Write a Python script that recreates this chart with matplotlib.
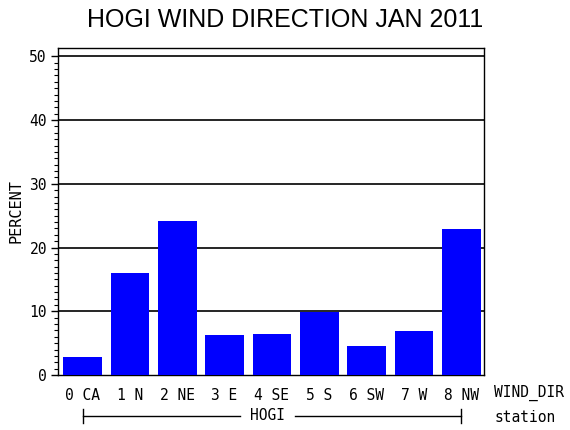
import matplotlib
matplotlib.use("Agg")
import matplotlib.pyplot as plt
import matplotlib.transforms as mtransforms
import numpy as np

categories = ["0 CA", "1 N", "2 NE", "3 E", "4 SE", "5 S", "6 SW", "7 W", "8 NW"]
percent = [2.8, 16.0, 24.2, 6.3, 6.5, 9.9, 4.5, 6.9, 22.9]
yticks = [0, 10, 20, 30, 40, 50]
station = "HOGI"

mono = "DejaVu Sans Mono"

fig = plt.figure(figsize=(5.7, 4.3), dpi=100)
ax = fig.add_axes([58/570, 1-375/430, 426/570, 327/430])

x = np.arange(len(categories))
ax.bar(x, percent, width=0.82, color="#0000ff", zorder=3)

ax.set_xlim(-0.52, 8.48)
ax.set_ylim(0, 51.3)
ax.set_yticks(yticks)
ax.set_yticks(np.arange(0, 51, 1), minor=True)
ax.set_yticklabels([str(t) for t in yticks], family=mono, fontsize=10.5)
for t in yticks[1:]:
    ax.axhline(t, color="black", lw=1.2, zorder=2)
ax.tick_params(axis="y", which="major", length=5, width=1, direction="out", pad=3)
ax.tick_params(axis="y", which="minor", length=3, width=0.8, direction="out")

ax.set_xticks(x)
ax.set_xticklabels(categories, family=mono, fontsize=10.5)
ax.tick_params(axis="x", length=0, pad=9)

for s in ax.spines.values():
    s.set_linewidth(1)

ax.set_ylabel("PERCENT", family=mono, fontsize=11, labelpad=4)

# WIND_DIR / station labels to the right
fig.text(494/570, 1-393/430, "WIND_DIR", family=mono, fontsize=10.5, va="center", ha="left")
fig.text(494/570, 1-418/430, "station", family=mono, fontsize=10.5, va="center", ha="left")

# group line for station
tr = mtransforms.blended_transform_factory(ax.transData, ax.transAxes)
gy = -(416-375)/327
ax.plot([x[0], 3.33], [gy, gy], color="black", lw=1, transform=tr, clip_on=False)
ax.plot([4.49, x[-1]], [gy, gy], color="black", lw=1, transform=tr, clip_on=False)
for xe in (x[0], x[-1]):
    ax.plot([xe, xe], [gy-0.02, gy+0.02], color="black", lw=1, transform=tr, clip_on=False)
ax.text(3.9, gy, station, family=mono, fontsize=10.5, ha="center", va="center", transform=tr)

fig.text(285/570, 1-20/430, "HOGI WIND DIRECTION JAN 2011", family="Liberation Sans",
         fontsize=18, ha="center", va="center")

fig.savefig("out.png", dpi=100)
